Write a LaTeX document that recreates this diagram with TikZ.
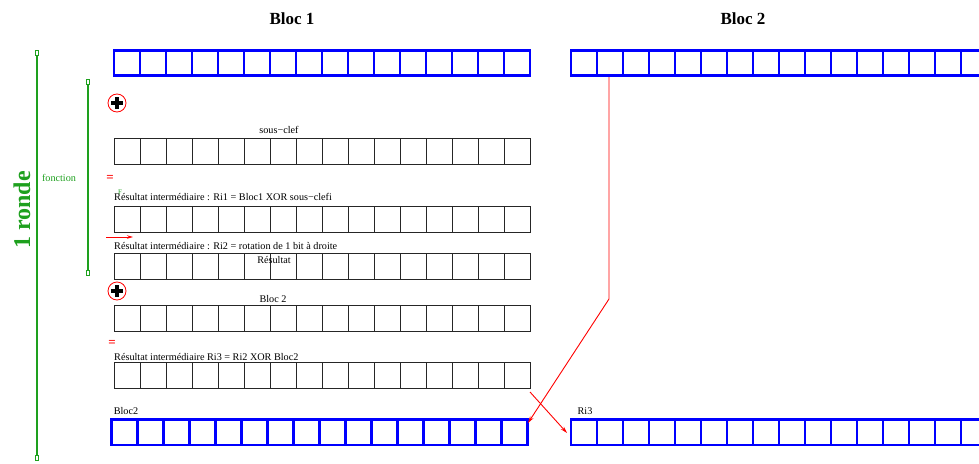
\documentclass[tikz,border=0pt]{standalone}
\usepackage{fontspec}
\setmainfont{Liberation Serif}
\usepackage{tikz}
\usetikzlibrary{arrows.meta}
\definecolor{vertfig}{RGB}{30,160,30}

\tikzset{
  petit/.style={font=\fontsize{10.2}{12}\selectfont, inner sep=0pt},
  case/.style={line width=0.9pt, draw=black!85},
  casebleu/.style={line width=2.2pt, draw=blue},
  fleche/.style={red, line width=0.9pt, -{Stealth[length=7pt,width=4pt]}},
  borne/.style={vertfig, line width=1.2pt, {Rectangle[open,length=6pt,width=3.5pt,line width=0.6pt]}-{Rectangle[open,length=6pt,width=3.5pt,line width=0.6pt]}}
}

\begin{document}
\begin{tikzpicture}[x=1pt,y=-1pt]
  \clip (0,0) rectangle (979,463);
        % en-tetes
        \node[font=\fontsize{17}{20}\selectfont\bfseries] (titre1) at (292,19) {Bloc 1};
        \node[font=\fontsize{17}{20}\selectfont\bfseries] (titre2) at (743,19) {Bloc 2};
        % la ronde et la fonction
        \draw[borne] (37,50)--(37,461);
        \draw[borne] (88,79)--(88,276);
        \node[rotate=90, text=vertfig, font=\fontsize{24}{28}\selectfont\bfseries] (ronde) at (22,210) {1 ronde};
        \node[petit, text=vertfig] (fonction) at (59,178) {fonction};
        % blocs d'entree et de sortie
        \foreach \i in {0,...,15} {
          \draw[casebleu] (114+26*\i,50.5) rectangle ++(26,25);
          \draw[casebleu] (571+26*\i,50.5) rectangle ++(26,25);
          \draw[casebleu] (111.5+26*\i,419.5) rectangle ++(26,25.5);
          \draw[casebleu] (571+26*\i,419.5) rectangle ++(26,25.5);
        }
        % registres intermediaires
        \foreach \y in {138,206,253,305,362} {
          \foreach \i in {0,...,15}
            \draw[case] (114+26*\i,\y) rectangle ++(26,26);
        }
        % operations
        \node[circle, draw=red, line width=0.8pt, minimum size=18pt, inner sep=0pt] (xorA) at (117,103) {};
        \draw[line width=3.2pt] ([xshift=-6pt]xorA.center)--([xshift=6pt]xorA.center);
        \draw[line width=3.2pt] ([yshift=-6pt]xorA.center)--([yshift=6pt]xorA.center);
        \node[circle, draw=red, line width=0.8pt, minimum size=18pt, inner sep=0pt] (xorB) at (117,291) {};
        \draw[line width=3.2pt] ([xshift=-6pt]xorB.center)--([xshift=6pt]xorB.center);
        \draw[line width=3.2pt] ([yshift=-6pt]xorB.center)--([yshift=6pt]xorB.center);
        \node[text=red, font=\fontsize{13}{14}\selectfont\bfseries, inner sep=0pt] (egalA) at (110,178) {=};
        \node[text=red, font=\fontsize{13}{14}\selectfont\bfseries, inner sep=0pt] (egalB) at (112,343) {=};
        \node[text=vertfig, font=\fontsize{7}{8}\selectfont, inner sep=0pt] (marque) at (120,192) {F};
        \coordinate (rotA) at (106,237);
        \coordinate (rotB) at (133,237);
        \draw[red, line width=0.9pt, -{Stealth[length=6pt,width=3.5pt]}] (rotA)--(rotB);
        % textes
        \node[petit] (clef) at (279,130) {sous−clef};
        \node[petit, anchor=west] (ri1) at (114,197) {Résultat intermédiaire : Ri1 = Bloc1 XOR sous−clefi};
        \node[petit, anchor=west] (ri2) at (114,246) {Résultat intermédiaire : Ri2 = rotation de 1 bit à droite};
        \node[petit] (res) at (274,260) {Résultat};
        \node[petit] (bloc2txt) at (273,299) {Bloc 2};
        \node[petit, anchor=west] (ri3) at (114,357) {Résultat intermédiaire Ri3 = Ri2 XOR Bloc2};
        \node[petit] (sortieG) at (126,411) {Bloc2};
        \node[petit] (sortieD) at (585,411) {Ri3};
        % croisement
        \coordinate (b2haut) at (609,77);
        \coordinate (coude) at (609,299);
        \coordinate (b2bas) at (528,423);
        \coordinate (ri3bas) at (530,392);
        \coordinate (ri3fin) at (567,433);
        \draw[fleche] (b2haut)--(coude)--(b2bas);
        \draw[fleche] (ri3bas)--(ri3fin);
    \end{tikzpicture}
\end{document}
